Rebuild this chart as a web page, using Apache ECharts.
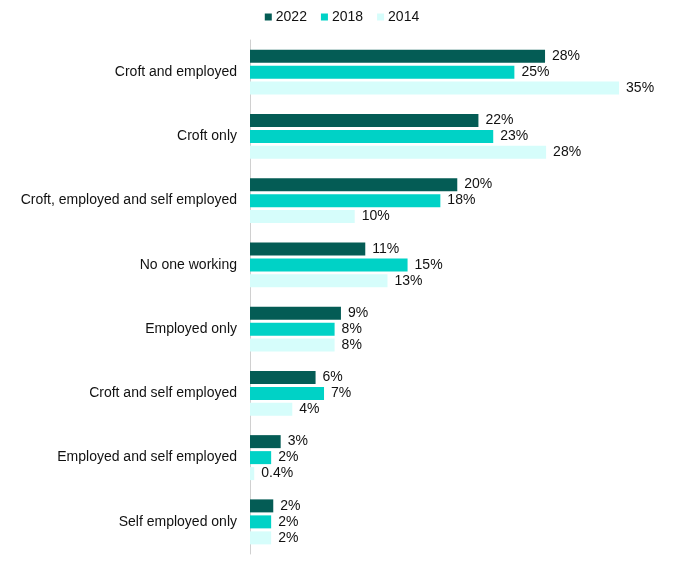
<!DOCTYPE html>
<html>
<head>
<meta charset="utf-8">
<script src="https://cdn.jsdelivr.net/npm/echarts@6/dist/echarts.min.js"></script>
<style>html,body{margin:0;padding:0;background:#fff}#c{width:684px;height:567px}</style>
</head>
<body>
<div id="c"></div>
<script>
const categories = ["Croft and employed","Croft only","Croft, employed and self employed","No one working","Employed only","Croft and self employed","Employed and self employed","Self employed only"];
const seriesNames = ["2022","2018","2014"];
const values2022 = [27.9,21.6,19.6,10.9,8.6,6.2,2.9,2.2];
const values2018 = [25.0,23.0,18.0,14.9,8.0,7.0,2.0,2.0];
const values2014 = [34.9,28.0,9.9,13.0,8.0,4.0,0.4,2.0];
const colors = ["#045c55","#00d2c6","#d6fdfb"];

const chart = echarts.init(document.getElementById('c'));
const font = 'Liberation Sans, Arial, sans-serif';
const fmt = v => (v < 1 ? v.toFixed(1) : Math.round(v)) + '%';
const mk = (name, data, i) => ({
  name, type: 'bar', data, barWidth: 13, barGap: '23%',
  itemStyle: {color: colors[i]},
  label: {show: true, position: 'right', distance: 7, formatter: p => fmt(p.value), color: '#111', fontSize: 14, fontFamily: font},
  animation: false
});
chart.setOption({
  animation: false,
  legend: {top: 5, left: 'center', itemWidth: 7, itemHeight: 7, itemGap: 14, icon: 'rect',
    textStyle: {fontSize: 14, fontFamily: font, color: '#111', padding: [0, 0, 0, -1]}},
  grid: {left: 250, right: 11, top: 40, bottom: 13, containLabel: false},
  xAxis: {type: 'value', min: 0, max: 40, show: false},
  yAxis: {type: 'category', data: categories, inverse: true,
    axisLine: {show: true, lineStyle: {color: '#d0d0d0', width: 1}},
    axisTick: {show: false},
    axisLabel: {margin: 13, fontSize: 14, fontFamily: font, color: '#111'}},
  series: [mk(seriesNames[0], values2022, 0), mk(seriesNames[1], values2018, 1), mk(seriesNames[2], values2014, 2)]
});
</script>
</body>
</html>
